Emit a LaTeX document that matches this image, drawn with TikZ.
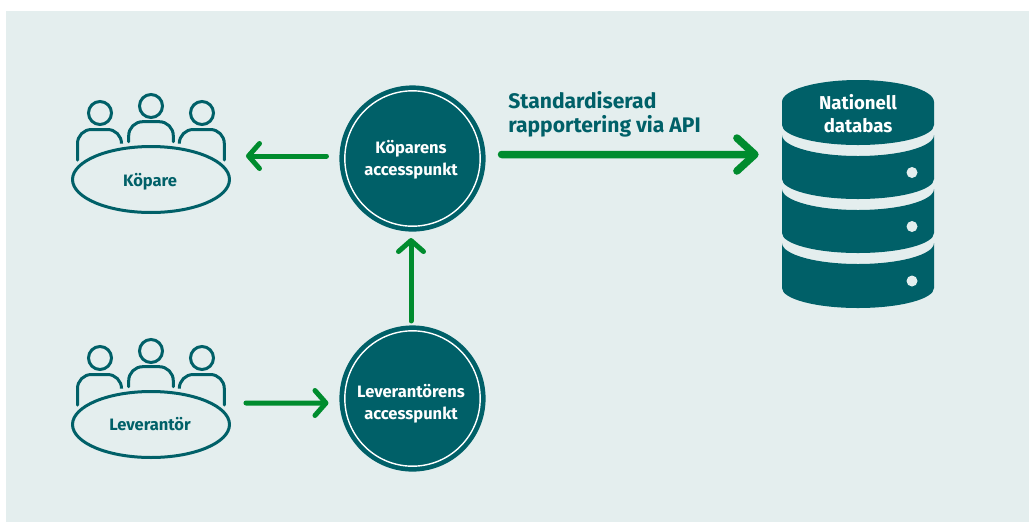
\documentclass[tikz,border=0pt]{standalone}
\usepackage{xcolor}
\usepackage{fontspec}
\setmainfont{Fira Sans}
\definecolor{panelgrey}{RGB}{228, 238, 238}
\definecolor{darkteal}{RGB}{0, 96, 104}
\definecolor{flowgreen}{RGB}{0, 140, 46}
\usetikzlibrary{shapes, arrows.meta, positioning, calc, shapes.geometric}

\tikzset{
    people/.pic={
        \draw[icon, rounded corners=0.28cm] (-73.5,-19.5) -- (-73.5,-50) -- (-29.5,-50) -- (-29.5,-36.5);
        \draw[icon, rounded corners=0.28cm] (-22.3,-37.8) -- (-22.3,-57.8) -- (22.3,-57.8) -- (22.3,-37.8);
        \draw[icon, rounded corners=0.28cm] (28.3,-36.5) -- (28.3,-50) -- (73.3,-50) -- (73.3,-19.5);
    }
}

\begin{document}
\begin{tikzpicture}[
    x=0.02cm, y=-0.02cm,
    icon/.style={draw=darkteal, line width=0.06cm, line cap=round},
    tablenode/.style={ellipse, draw=darkteal, fill=panelgrey, line width=0.06cm, minimum width=3.14cm, minimum height=1.32cm, inner sep=0pt},
    tabletext/.style={text=darkteal, inner sep=0pt, font=\fontsize{9.4}{10}\selectfont\bfseries},
    accesspoint/.style={circle, fill=darkteal, draw=darkteal, line width=0.094cm, double=white, double distance=0.028cm, minimum size=2.708cm, inner sep=0pt},
    aptext/.style={align=center, text=white, inner sep=0pt, font=\fontsize{9.4}{12.5}\selectfont\bfseries},
    flowarrow/.style={draw=flowgreen, line width=0.1cm, line cap=round, -{Straight Barb[round, length=0.22cm, width=0.5cm]}},
    bigarrow/.style={draw=flowgreen, line width=0.15cm, line cap=round, -{Straight Barb[round, length=0.36cm, width=0.66cm]}},
    disc/.style={fill=darkteal, draw=none},
    ledlight/.style={circle, fill=panelgrey, minimum size=0.22cm, inner sep=0pt}
]
    \useasboundingbox (0,0) rectangle (1029,522);
    \fill[panelgrey] (6,11) rectangle (1029,522);

    \foreach \name/\ypos/\txt/\ytxt in {kopare/179.5/K\"opare/181.5, leverantor/424.5/Leverant\"or/424.5} {
        \draw[icon] (100,\ypos-66.5) circle[radius=11.5];
        \draw[icon] (151,\ypos-73.5) circle[radius=11.5];
        \draw[icon] (202,\ypos-66.5) circle[radius=11.5];
        \pic at (151,\ypos) {people};
        \node[tablenode] (\name) at (151,\ypos) {};
        \node[tabletext] (\name text) at (150,\ytxt) {\txt};
    }

    \node[accesspoint] (koparensap) at (412.5,158.5) {};
    \node[aptext] (koparenstext) at (411,160) {K\"oparens\\accesspunkt};
    \node[accesspoint] (leverantorsap) at (412.5,398.5) {};
    \node[aptext] (leverantorstext) at (411,404) {Leverant\"orens\\accesspunkt};

    \node[minimum width=3.04cm, minimum height=4.56cm, inner sep=0pt] (databasbox) at (858,194) {};
    \fill[disc] (782,102) arc[start angle=180, end angle=360, x radius=76, y radius=22] -- (934,125) arc[start angle=0, end angle=180, x radius=76, y radius=20] -- cycle;
    \foreach \ytop/\ybot in {135/179, 189/233, 243/288} {
        \fill[disc] (782,\ytop) arc[start angle=180, end angle=360, x radius=76, y radius=-21] -- (934,\ybot) arc[start angle=0, end angle=180, x radius=76, y radius=20] -- cycle;
    }
    \node[ledlight] (ledone) at (912,172.5) {};
    \node[ledlight] (ledtwo) at (912,226.5) {};
    \node[ledlight] (ledthree) at (912,281) {};
    \node[align=center, text=white, font=\fontsize{10.6}{13}\selectfont\bfseries] (dbtext) at (858,114) {Nationell\\databas};

    \node[anchor=west, align=left, text=darkteal, font=\fontsize{12}{13.6}\selectfont\bfseries, inner sep=0pt] (apilabel) at (508,114.5) {Standardiserad\\rapportering via API};

    \draw[flowarrow] ([shift={(-16,-2.5)}]koparensap.west) -- ([shift={(15,-23.5)}]kopare.east);
    \draw[flowarrow] ([shift={(-1.5,-7.5)}]leverantorsap.north) -- ([shift={(-1.5,9.5)}]koparensap.south);
    \draw[flowarrow] ([shift={(15,-21.5)}]leverantor.east) -- ([shift={(-14,4.5)}]leverantorsap.west);
    \draw[bigarrow] ([shift={(19,-4)}]koparensap.east) -- ([shift={(-23,-39.5)}]databasbox.west);
\end{tikzpicture}
\end{document}
